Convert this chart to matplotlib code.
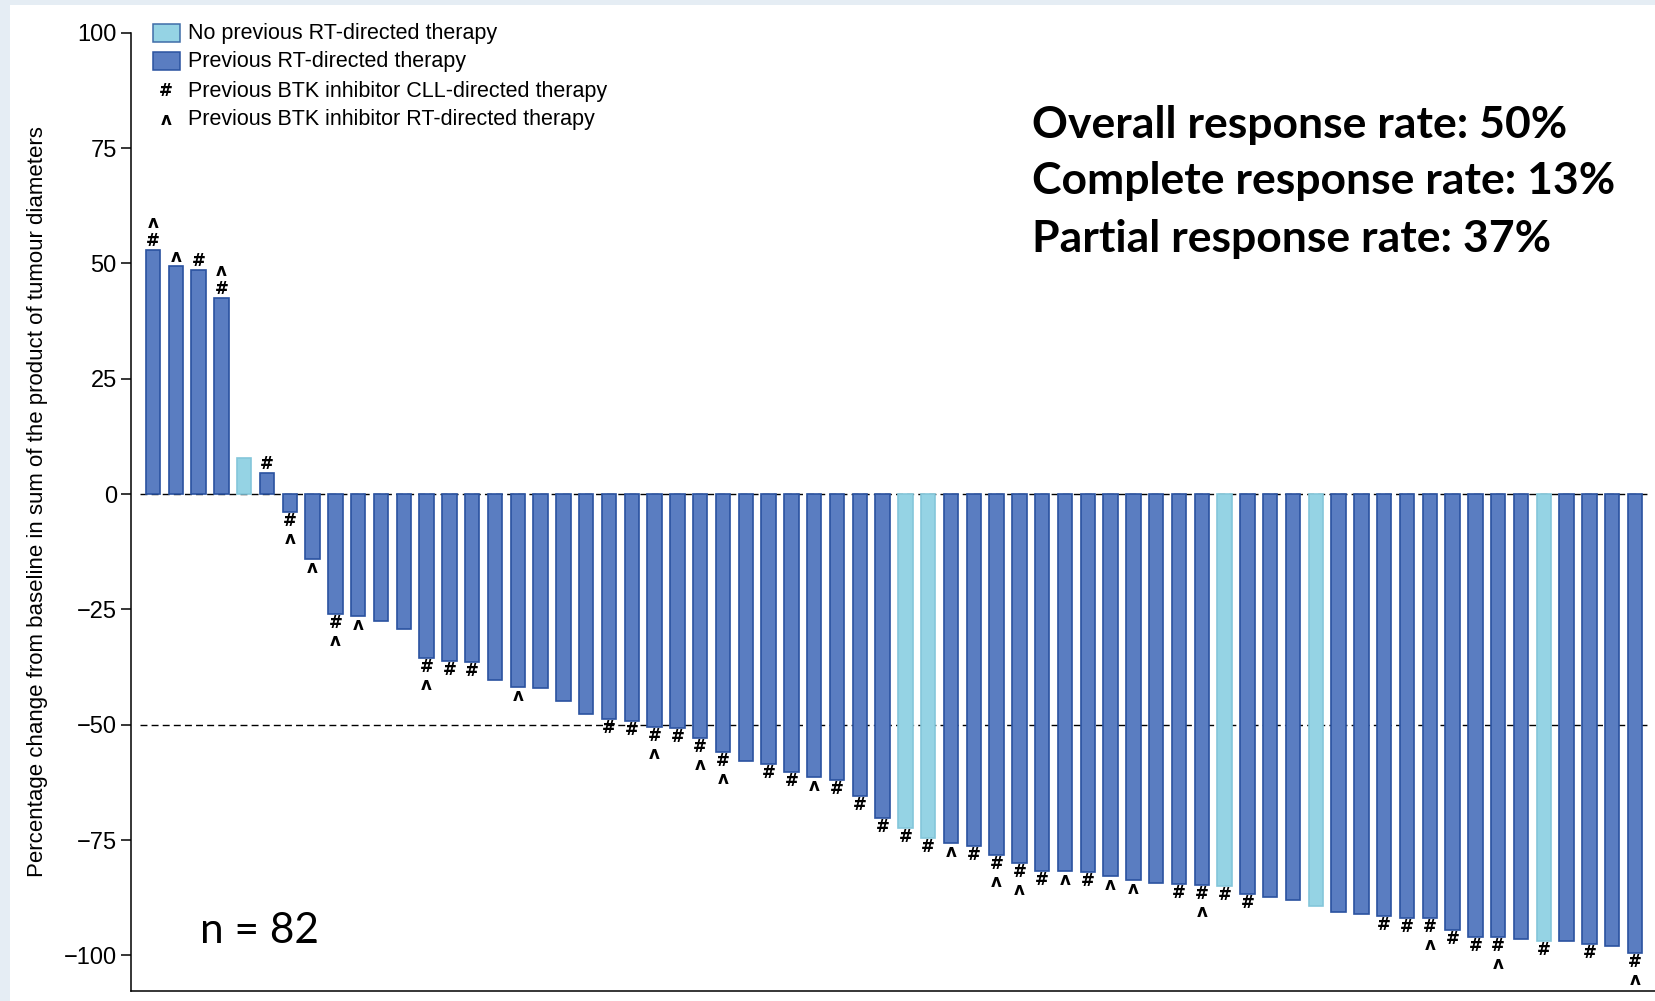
import matplotlib.pyplot as plt
from matplotlib.patches import Rectangle

# best change from baseline per patient (%), sorted
change = [52.9, 49.4, 48.6, 42.4, 7.9, 4.5, -3.8, -14.1, -25.9, -26.4,
          -27.6, -29.3, -35.6, -36.1, -36.4, -40.3, -41.8, -42.1, -44.9, -47.7,
          -48.8, -49.2, -50.4, -50.8, -52.8, -55.9, -57.9, -58.5, -60.2, -61.3,
          -61.9, -65.5, -70.1, -72.3, -74.6, -75.7, -76.3, -78.3, -80.0, -81.7,
          -81.7, -81.9, -82.8, -83.6, -84.2, -84.5, -84.8, -85.0, -86.7, -87.4,
          -87.9, -89.3, -90.6, -91.0, -91.5, -91.8, -91.8, -94.4, -96.0, -96.0,
          -96.4, -96.9, -96.8, -97.6, -97.9, -99.4]

# patient numbers (1-based, in bar order)
no_prior_rt = [5, 34, 35, 48, 52, 62]
btk_cll = [1, 3, 4, 6, 7, 9, 13, 14, 15, 21, 22, 23, 24, 25, 26, 28, 29, 31, 32,
           33, 34, 35, 37, 38, 39, 40, 42, 46, 47, 48, 49, 55, 56, 57, 58, 59,
           60, 62, 64, 66]
btk_rt = [1, 2, 4, 7, 8, 9, 10, 13, 17, 23, 25, 26, 30, 36, 38, 39, 41, 43, 44,
          47, 57, 60, 66]

legend_labels = ['No previous RT-directed therapy',
                 'Previous RT-directed therapy',
                 'Previous BTK inhibitor CLL-directed therapy',
                 'Previous BTK inhibitor RT-directed therapy']
rate_lines = ['Overall response rate: 50%',
              'Complete response rate: 13%',
              'Partial response rate: 37%']
n_text = 'n = 82'

DARK, DARK_EDGE = '#5a7dc1', '#2a52a0'
LIGHT, LIGHT_EDGE = '#95d3e4', '#84c6da'
FONT = ['Liberation Sans', 'DejaVu Sans']
SYM_FONT = ['DejaVu Sans']

W, H = 1655, 1001
fig = plt.figure(figsize=(W / 100, H / 100), dpi=100, facecolor='#e5edf4')
fig.patches.append(Rectangle((10 / W, 0), 1, 1 - 5 / H, transform=fig.transFigure,
                             facecolor='white', edgecolor='none', zorder=-1))

ax = fig.add_axes([130.7 / W, 10 / H, 1 - 130.7 / W, (991 - 32.7) / H])
ax.set_facecolor('none')

x = list(range(len(change)))
fills = [LIGHT if i + 1 in no_prior_rt else DARK for i in x]
edges = [LIGHT_EDGE if i + 1 in no_prior_rt else DARK_EDGE for i in x]
ax.bar(x, change, width=0.63, color=fills, edgecolor=edges, linewidth=1.2, zorder=2)

for y in (0, -50):
    ax.axhline(y, xmin=0.006, xmax=0.995, color='black', lw=1.0,
               linestyle=(0, (5, 3)), zorder=1)

# symbols stacked next to the end of each bar: '#' nearest, then 'ʌ'
for i, v in enumerate(change):
    syms = []
    if i + 1 in btk_cll:
        syms.append('#')
    if i + 1 in btk_rt:
        syms.append('ʌ')
    sign = 1 if v >= 0 else -1
    for k, s in enumerate(syms):
        off = (9 + 18 * k) * 0.72
        ax.annotate(s, (i, v), xytext=(0, sign * off), textcoords='offset points',
                    ha='center', va='center', fontsize=12, fontweight='bold',
                    family=SYM_FONT, zorder=3)

ax.set_xlim(-0.978, 65.88)
ax.set_ylim(-107.7, 100)
ax.set_yticks(range(-100, 101, 25))
ax.set_xticks([])
ax.tick_params(axis='y', length=7, width=1.1, pad=3, labelsize=17)
for lab in ax.get_yticklabels():
    lab.set_family(FONT)
for side in ('top', 'right'):
    ax.spines[side].set_visible(False)
for side in ('left', 'bottom'):
    ax.spines[side].set_linewidth(1.1)

ax.set_ylabel('Percentage change from baseline in sum of the product of tumour diameters',
              fontsize=16, family=FONT)
ax.yaxis.set_label_coords(-(130.7 - 48) / (W - 130.7), 0.511)

# legend rows
rows = [33, 61, 91, 120]
for r, lab in zip(rows, legend_labels):
    fig.text(188 / W, 1 - r / H, lab, fontsize=15.5, family=FONT, va='center')
for r, fc, ec in [(rows[0], LIGHT, '#3f6da8'), (rows[1], DARK, DARK_EDGE)]:
    fig.patches.append(Rectangle((153 / W, 1 - (r + 9) / H), 27 / W, 18 / H,
                                 transform=fig.transFigure, facecolor=fc,
                                 edgecolor=ec, lw=1.1))
fig.text(166 / W, 1 - rows[2] / H, '#', fontsize=12, fontweight='bold',
         family=SYM_FONT, ha='center', va='center')
fig.text(166 / W, 1 - rows[3] / H, 'ʌ', fontsize=12, fontweight='bold',
         family=SYM_FONT, ha='center', va='center')

for yy, line in zip([125, 181, 239], rate_lines):
    fig.text(1032 / W, 1 - yy / H, line, fontsize=32, fontweight='bold',
             family=['Lato', 'DejaVu Sans'], va='center')
fig.text(200 / W, 1 - 931 / H, n_text, fontsize=30.5, family=['Lato', 'DejaVu Sans'],
         va='center')

fig.savefig('out.png', dpi=100, facecolor=fig.get_facecolor())
